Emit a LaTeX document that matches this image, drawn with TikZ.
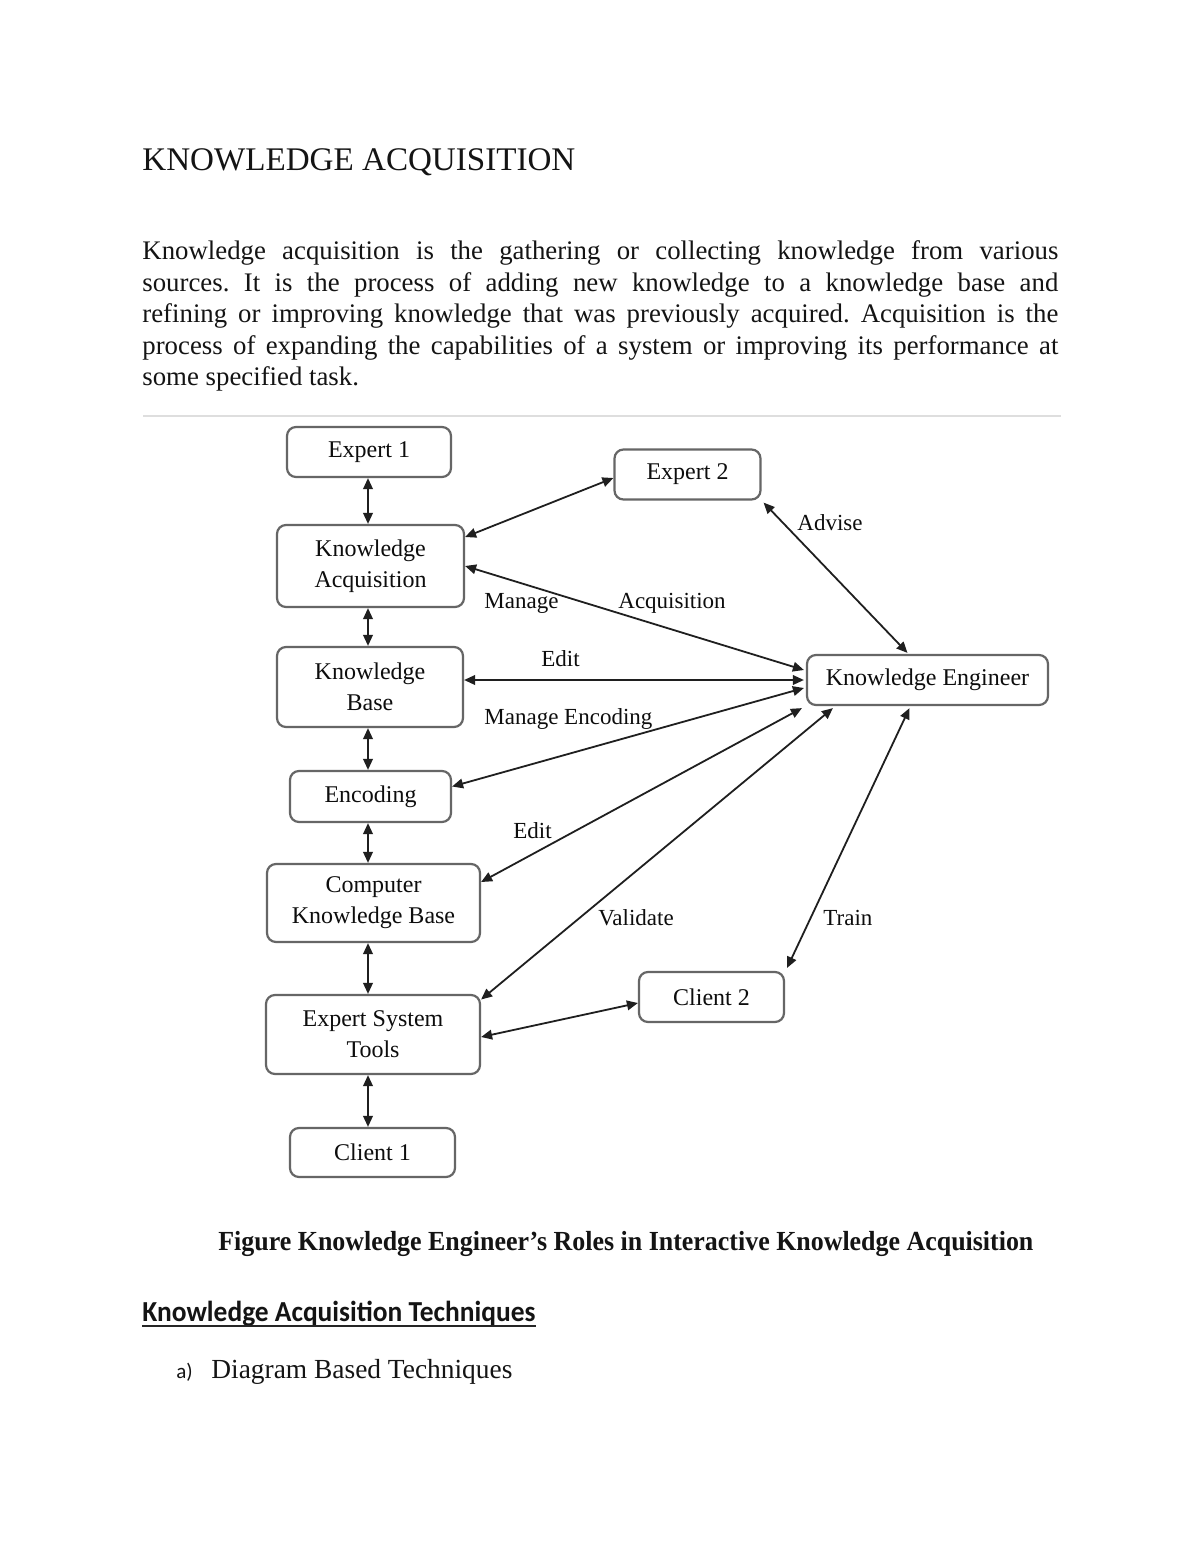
\documentclass[tikz,border=0pt]{standalone}
\usepackage{fontspec}
\setmainfont{Liberation Serif}
\newfontfamily\calib{Carlito}
\usetikzlibrary{arrows.meta,calc}
\frenchspacing
\tikzset{
  box/.style={draw=black!60, line width=1.1pt, rounded corners=4.5pt, fill=white, align=center,
    font=\fontsize{12}{15.5}\selectfont, text=black!95, inner sep=0pt},
  conn/.style={draw=black!88, line width=0.9pt,
    {Triangle[length=5.5pt,width=4.8pt]}-{Triangle[length=5.5pt,width=4.8pt]}},
  lbl/.style={font=\fontsize{11.5}{13}\selectfont, anchor=base west, inner sep=0pt, text=black!95},
  txt/.style={anchor=base west, inner sep=0pt, text=black!92},
}
\begin{document}
\begin{tikzpicture}[x=0.5pt,y=-0.5pt]
\fill[white] (0,0) rectangle (1200,1553);
\useasboundingbox (0,0) rectangle (1200,1553);

% ---- text above ----
\node[txt] (title) at (142,170) {\resizebox{216.5pt}{\height}{\fontsize{16.5}{18}\selectfont KNOWLEDGE ACQUISITION}};
\node[txt] (p1) at (142,259) {\fontsize{13.4}{16}\selectfont\makebox[458pt][s]{Knowledge acquisition is the gathering or collecting knowledge from various}};
\node[txt] (p2) at (142,291) {\fontsize{13.4}{16}\selectfont\makebox[458pt][s]{sources. It is the process of adding new knowledge to a knowledge base and}};
\node[txt] (p3) at (142,322) {\fontsize{13.4}{16}\selectfont\makebox[458pt][s]{refining or improving knowledge that was previously acquired. Acquisition is the}};
\node[txt] (p4) at (142,354) {\fontsize{13.4}{16}\selectfont\makebox[458pt][s]{process of expanding the capabilities of a system or improving its performance at}};
\node[txt] (p5) at (142,385) {\fontsize{13.4}{16}\selectfont some specified task.};
\draw[black!13, line width=0.75pt] (143,416) -- (1061,416);

% ---- nodes ----
\node[box, minimum width=82pt,   minimum height=25pt]   (e1)  at (369,452)    {Expert 1};
\node[box, minimum width=73pt,   minimum height=25pt]   (e2)  at (687.5,474.5) {Expert 2};
\node[box, minimum width=93.5pt, minimum height=41pt]   (ka)  at (370.5,566)  {Knowledge\\Acquisition};
\node[box, minimum width=93pt,   minimum height=40pt]   (kb)  at (370,687)    {Knowledge\\Base};
\node[box, minimum width=80.5pt, minimum height=25.5pt] (enc) at (370.5,796.5) {Encoding};
\node[box, minimum width=106.5pt,minimum height=39pt]   (ckb) at (373.5,903)  {Computer\\Knowledge Base};
\node[box, minimum width=107pt,  minimum height=39.5pt] (est) at (373,1034.5)  {Expert System\\Tools};
\node[box, minimum width=82.5pt, minimum height=24.5pt] (c1)  at (372.5,1152.5) {Client 1};
\node[box, minimum width=72.5pt, minimum height=25pt]   (c2)  at (711.5,997)  {Client 2};
\node[box, minimum width=120.5pt,minimum height=25pt]   (ke)  at (927.5,680)  {Knowledge Engineer};

\coordinate (vx) at (368,0);

% ---- vertical chain ----
\draw[conn] (e1.south -| vx) -- (ka.north -| vx);
\draw[conn] (ka.south -| vx) -- (kb.north -| vx);
\draw[conn] (kb.south -| vx) -- (enc.north -| vx);
\draw[conn] (enc.south -| vx) -- (ckb.north -| vx);
\draw[conn] (ckb.south -| vx) -- (est.north -| vx);
\draw[conn] (est.south -| vx) -- (c1.north -| vx);

% ---- other connectors ----
\draw[conn] ([yshift=14.5pt]ka.east) -- ([yshift=-1.75pt]e2.west);
\draw[conn] (ka.east) -- ([xshift=-1pt,yshift=5pt]ke.west);
\draw[conn] (ke.west -| kb.east) -- ([xshift=-1pt]ke.west);
\draw[conn] ([yshift=5pt]enc.east) -- ([xshift=-1pt,yshift=-4pt]ke.west);
\draw[conn] ([yshift=10.5pt]ckb.east) -- ([xshift=-2pt,yshift=-1pt]ke.south west);
\draw[conn] ([yshift=17.5pt]est.east) -- ([xshift=13.5pt,yshift=-1pt]ke.south west);
\draw[conn] ([xshift=1pt,yshift=1.5pt]c2.north east) -- ([xshift=-9pt,yshift=-1pt]ke.south);
\draw[conn] ([yshift=-1.25pt]est.east) -- ([yshift=-3pt]c2.west);
\draw[conn] ([xshift=1pt,yshift=-1pt]e2.south east) -- ([xshift=-10pt,yshift=0.5pt]ke.north);

% ---- labels ----
\node[lbl] (l1) at (484,608) {Manage};
\node[lbl] (l2) at (618,608) {Acquisition};
\node[lbl] (l3) at (541,666) {Edit};
\node[lbl] (l4) at (484,724) {Manage Encoding};
\node[lbl] (l5) at (513,838) {Edit};
\node[lbl] (l6) at (598,925) {Validate};
\node[lbl] (l7) at (823,925) {Train};
\node[lbl] (l8) at (797,530) {Advise};

% ---- text below ----
\node[txt] (cap) at (218,1250) {\resizebox{407.5pt}{\height}{\fontsize{13.8}{16}\selectfont\bfseries Figure Knowledge Engineer’s Roles in Interactive Knowledge Acquisition}};
\node[txt] (h2) at (142,1321) {\resizebox{196.5pt}{\height}{\calib\bfseries\fontsize{14.5}{16}\selectfont Knowledge Acquisition Techniques}};
\draw[black!85, line width=1pt] ([yshift=-2.5pt]h2.base west) -- ([yshift=-2.5pt]h2.base east);
\node[txt] (ia) at (176,1378) {\calib\fontsize{10.5}{12}\selectfont a)};
\node[txt] (d) at (211,1378) {\resizebox{150.5pt}{\height}{\fontsize{13.8}{16}\selectfont Diagram Based Techniques}};
\end{tikzpicture}
\end{document}
